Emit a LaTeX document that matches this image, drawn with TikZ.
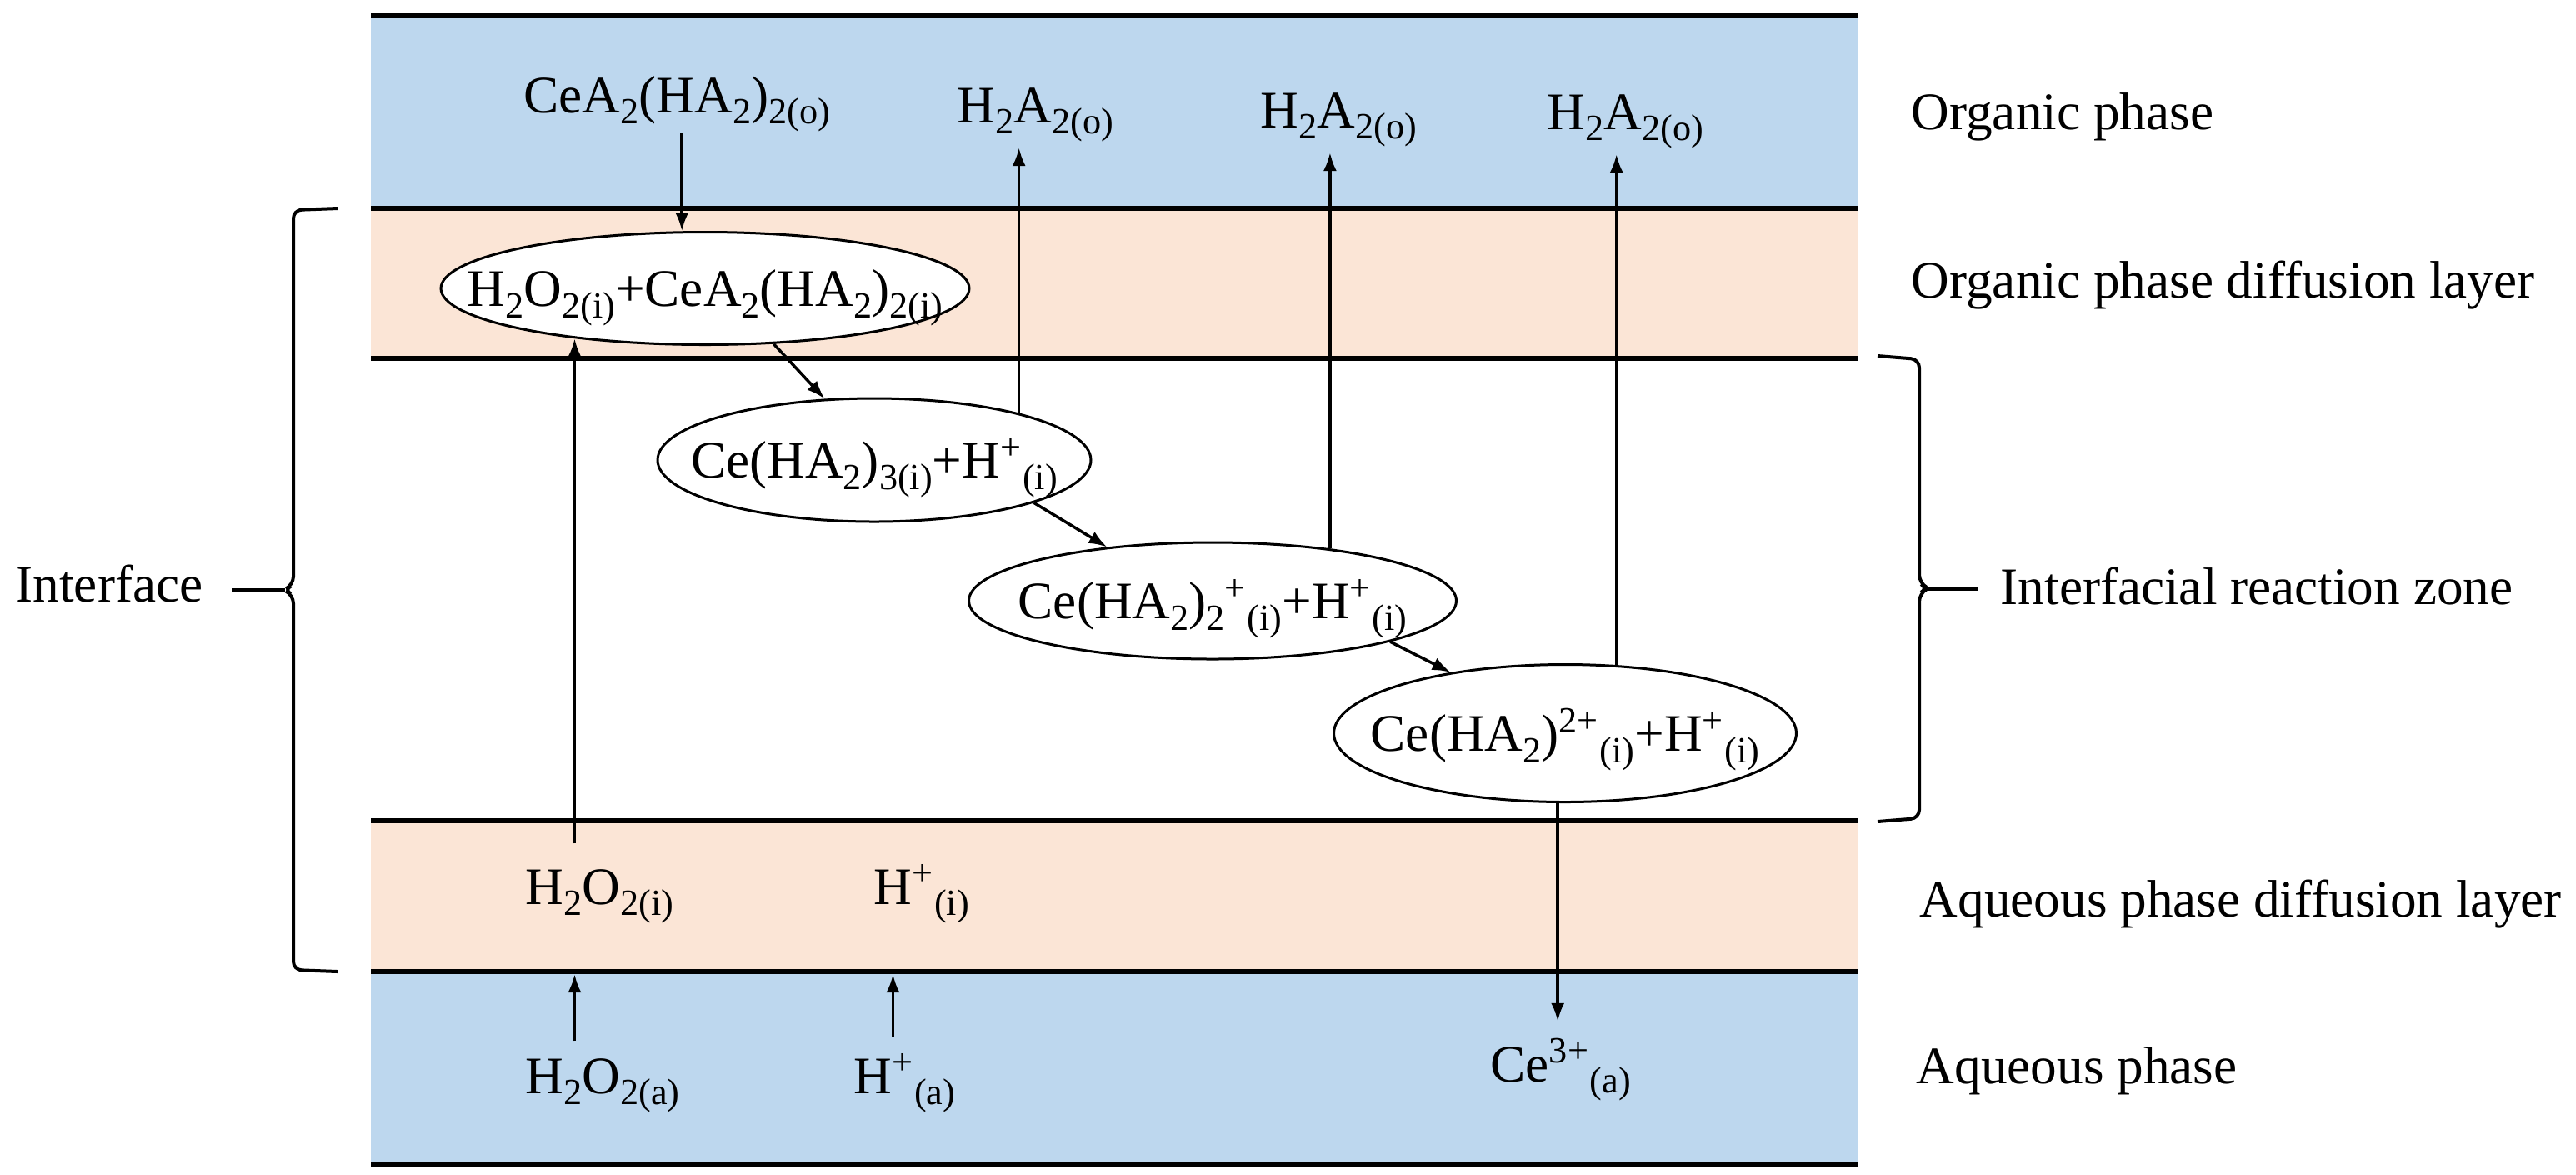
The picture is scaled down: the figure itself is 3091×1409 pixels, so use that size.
\documentclass[tikz,border=0pt]{standalone}
\usepackage{fontspec}
\setmainfont{Liberation Serif}
\usepackage{tikz}
\usetikzlibrary{arrows.meta,shapes.geometric}
\definecolor{orgblue}{HTML}{BDD7EE}
\definecolor{difpeach}{HTML}{FBE5D6}
\newcommand{\sbs}[1]{\raisebox{-0.22em}{\fontsize{12.6pt}{14pt}\selectfont #1}}
\newcommand{\sps}[1]{\textsuperscript{#1}}
\newcommand{\ctr}[1]{\makebox[0pt]{#1}}

\begin{document}
\begin{tikzpicture}[x=0.1mm,y=-0.1mm,
  every node/.style={font=\fontsize{18pt}{22pt}\selectfont},
  lbl/.style={anchor=base west,inner sep=0pt},
  rxn/.style 2 args={ellipse,draw,fill=white,line width=0.3mm,minimum width=#1,minimum height=#2,inner sep=0pt,text height=12pt,text depth=0pt},
  arr/.style={-{Latex[length=2.2mm,width=1.6mm]},line width=0.35mm},
  bnd/.style={line width=0.6mm},
  brc/.style={line width=0.4mm,rounded corners=1mm},
  stub/.style={line width=0.5mm}]
\useasboundingbox (0,0) rectangle (3091,1409);
% phases and layers
\fill[orgblue] (445,18) rectangle (2230,250);
\fill[difpeach] (445,250) rectangle (2230,430);
\fill[difpeach] (445,985) rectangle (2230,1166);
\fill[orgblue] (445,1166) rectangle (2230,1397);
\foreach \y in {18,250,430,985,1166,1397}
  \draw[bnd] (445,\y) -- (2230,\y);
\coordinate (aqline) at (445,1166);

% right hand labels
\node[lbl] (orgph) at (2293,155) {Organic phase};
\node[lbl] (orgdl) at (2293,357) {Organic phase diffusion layer};
\node[lbl] (irz) at (2400,725) {Interfacial reaction zone};
\node[lbl] (aqdl) at (2303,1100) {Aqueous phase diffusion layer};
\node[lbl] (aqph) at (2299,1300) {Aqueous phase};
\node[lbl] (ifc) at (18,722) {Interface};

% species
\node[lbl] (ceo) at (628,135) {CeA\sbs{2}(HA\sbs{2})\sbs{2(o)}};
\node[lbl] (hao1) at (1148,147) {H\sbs{2}A\sbs{2(o)}};
\node[lbl] (hao2) at (1512,153) {H\sbs{2}A\sbs{2(o)}};
\node[lbl] (hao3) at (1856,155) {H\sbs{2}A\sbs{2(o)}};
\node[lbl] (h2oi) at (630,1085) {H\sbs{2}O\sbs{2(i)}};
\node[lbl] (hi) at (1048,1085) {H\sps{+}\sbs{(i)}};
\node[lbl] (h2oa) at (630,1312) {H\sbs{2}O\sbs{2(a)}};
\node[lbl] (ha) at (1024,1312) {H\sps{+}\sbs{(a)}};
\node[lbl] (cea) at (1788,1298) {Ce\sps{3+}\sbs{(a)}};

% reaction steps
\node[rxn={63.4mm}{13.5mm}] (E1) at (846,346) {\ctr{H\sbs{2}O\sbs{2(i)}+CeA\sbs{2}(HA\sbs{2})\sbs{2(i)}}};
\node[rxn={52mm}{14.8mm}] (E2) at (1049,552) {\ctr{Ce(HA\sbs{2})\sbs{3(i)}+H\sps{+}\sbs{(i)}}};
\node[rxn={58.5mm}{14mm}] (E3) at (1455,721) {\ctr{Ce(HA\sbs{2})\sbs{2}\sps{+}\sbs{(i)}+H\sps{+}\sbs{(i)}}};
\node[rxn={55.5mm}{16.5mm}] (E4) at (1878,880) {\ctr{Ce(HA\sbs{2})\sps{2+}\sbs{(i)}+H\sps{+}\sbs{(i)}}};

\draw[arr] (E1.112 |- ceo.south) -- (E1.112);
\draw[arr] (E1.-39) -- (E2.129);
\draw[arr] (E2.-15) -- (E3.153);
\draw[arr] (E3.-13) -- (E4.152);
\draw[arr,shorten >=0.6mm] (E2.18) -- (E2.18 |- hao1.south);
\draw[arr,shorten >=0.6mm] (E3.24) -- (E3.24 |- hao2.south);
\draw[arr,shorten >=0.6mm] (E4.53) -- (E4.53 |- hao3.south);
\draw[arr,shorten <=3mm] (E1.201 |- h2oi.north) -- (E1.201);
\draw[arr,shorten <=2mm,shorten >=0.3mm] (E1.201 |- h2oa.north) -- (E1.201 |- aqline);
\draw[arr,shorten <=2mm,shorten >=0.3mm] ([xshift=-1.4mm]ha.north) -- ([xshift=-1.4mm]ha.north |- aqline);
\draw[arr,shorten >=2mm] (E4.-96) -- (E4.-96 |- cea.north);

% braces
\draw[brc] (405,250) -- (352,252) -- (352,702) -- (340,708) -- (352,714) -- (352,1164) -- (405,1166);
\coordinate (lcusp) at (342,708);
\coordinate (lstub) at (278,708);
\draw[stub] (lstub) -- (lcusp);
\draw[brc] (2253,427) -- (2303,431) -- (2303,700) -- (2314,706) -- (2303,712) -- (2303,982) -- (2253,986);
\coordinate (rcusp) at (2311,706);
\coordinate (rstub) at (2373,706);
\draw[stub] (rcusp) -- (rstub);
\end{tikzpicture}
\end{document}
